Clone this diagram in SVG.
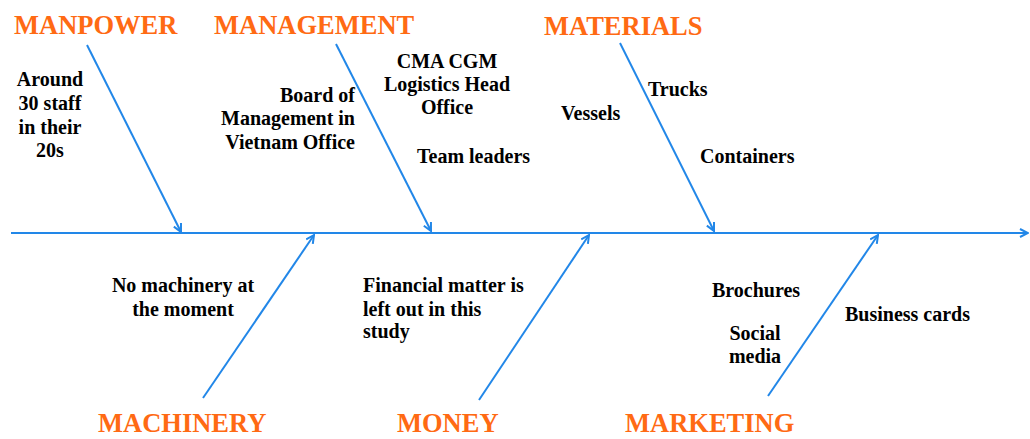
<svg xmlns="http://www.w3.org/2000/svg" width="1030" height="439" viewBox="0 0 1030 439">
<style>
.title{font-family:'Liberation Serif','Times New Roman','DejaVu Serif',serif;font-weight:700;font-size:26.5px;fill:#FF6A13}
.lbl{font-family:'Liberation Serif','Times New Roman','DejaVu Serif',serif;font-weight:700;font-size:20px;fill:#000}
.c{text-anchor:middle}
.r{text-anchor:end}
.ln{stroke:#2287E8;stroke-width:2;fill:none}
</style>
<defs>
<marker id="ah" viewBox="0 0 10 10" refX="9" refY="5" markerWidth="10" markerHeight="10" markerUnits="userSpaceOnUse" orient="auto">
<path d="M1,1 L9,5 L1,9" fill="none" stroke="#2287E8" stroke-width="2"/>
</marker>
</defs>
<rect width="1030" height="439" fill="#fff"/>
<g id="connectors">
<line class="ln" x1="11" y1="233" x2="1028" y2="233" marker-end="url(#ah)"/>
<line class="ln" x1="87" y1="45" x2="181" y2="232" marker-end="url(#ah)"/>
<line class="ln" x1="336" y1="44" x2="431" y2="231" marker-end="url(#ah)"/>
<line class="ln" x1="620" y1="43" x2="714" y2="231" marker-end="url(#ah)"/>
<line class="ln" x1="203" y1="398" x2="314" y2="235" marker-end="url(#ah)"/>
<line class="ln" x1="479" y1="400" x2="589" y2="235" marker-end="url(#ah)"/>
<line class="ln" x1="768" y1="396" x2="878" y2="235" marker-end="url(#ah)"/>
</g>
<g id="manpower">
<text class="title" x="14" y="34">MANPOWER</text>
<text class="lbl c" x="50" y="86">Around</text>
<text class="lbl c" x="50" y="110">30 staff</text>
<text class="lbl c" x="50" y="134">in their</text>
<text class="lbl c" x="50" y="157">20s</text>
</g>
<g id="management">
<text class="title" x="214" y="34">MANAGEMENT</text>
<text class="lbl r" x="355" y="102">Board of</text>
<text class="lbl r" x="355" y="125">Management in</text>
<text class="lbl r" x="355" y="149">Vietnam Office</text>
<text class="lbl c" x="447" y="68">CMA CGM</text>
<text class="lbl c" x="447" y="91">Logistics Head</text>
<text class="lbl c" x="447" y="114">Office</text>
<text class="lbl" x="417" y="163">Team leaders</text>
</g>
<g id="materials">
<text class="title" x="544" y="35">MATERIALS</text>
<text class="lbl" x="561" y="120">Vessels</text>
<text class="lbl" x="648" y="96">Trucks</text>
<text class="lbl" x="700" y="163">Containers</text>
</g>
<g id="machinery">
<text class="title" x="98" y="432">MACHINERY</text>
<text class="lbl c" x="183" y="292">No machinery at</text>
<text class="lbl c" x="183" y="316">the moment</text>
</g>
<g id="money">
<text class="title" x="397" y="432">MONEY</text>
<text class="lbl" x="363" y="292">Financial matter is</text>
<text class="lbl" x="363" y="316">left out in this</text>
<text class="lbl" x="363" y="338">study</text>
</g>
<g id="marketing">
<text class="title" x="625" y="432">MARKETING</text>
<text class="lbl" x="712" y="297">Brochures</text>
<text class="lbl c" x="755" y="340">Social</text>
<text class="lbl c" x="755" y="363">media</text>
<text class="lbl" x="845" y="321">Business cards</text>
</g>
</svg>
